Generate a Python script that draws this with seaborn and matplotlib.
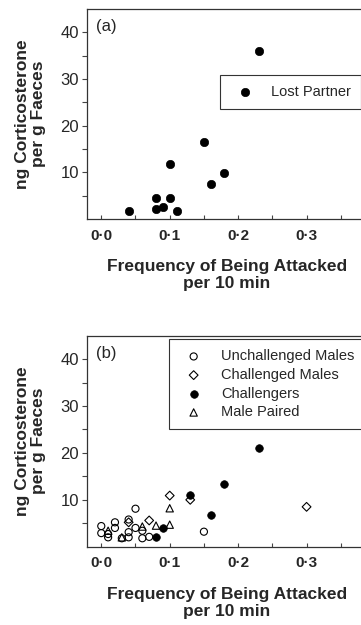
import matplotlib
matplotlib.use("Agg")
import matplotlib.pyplot as plt
import seaborn as sns

# ---- data ----
x_ticks = [0.0, 0.1, 0.2, 0.3]
x_tick_labels = ["0·0", "0·1", "0·2", "0·3"]
y_ticks = [10, 20, 30, 40]

lost_x = [0.04, 0.08, 0.08, 0.09, 0.10, 0.10, 0.11, 0.15, 0.16, 0.18, 0.23]
lost_y = [1.8, 4.5, 2.2, 2.6, 4.4, 11.7, 1.8, 16.4, 7.4, 9.8, 36.0]

unch_x = [0.00, 0.00, 0.01, 0.01, 0.02, 0.02, 0.03, 0.04, 0.04, 0.04, 0.05, 0.05, 0.06, 0.06, 0.07, 0.15]
unch_y = [4.4, 2.9, 2.0, 2.7, 5.2, 4.0, 1.8, 5.8, 3.1, 2.0, 8.1, 4.0, 3.4, 1.8, 2.1, 3.2]
chal_x = [0.04, 0.07, 0.10, 0.13, 0.30]
chal_y = [5.2, 5.6, 10.9, 10.0, 8.5]
chlr_x = [0.08, 0.09, 0.13, 0.16, 0.18, 0.23]
chlr_y = [2.1, 4.0, 11.0, 6.7, 13.3, 21.0]
pair_x = [0.01, 0.03, 0.06, 0.08, 0.10, 0.10]
pair_y = [3.4, 2.0, 4.3, 4.5, 8.2, 4.7]

sns.set_style("ticks")
plt.rcParams["font.family"] = ["Liberation Sans", "DejaVu Sans"]

fig = plt.figure(figsize=(3.61, 6.25), dpi=100)

W, H = 361.0, 625.0


def make_axes(top_px, bottom_px):
    left = 86.7
    right = 375.0
    return fig.add_axes([left / W, 1 - bottom_px / H, (right - left) / W, (bottom_px - top_px) / H])


def style_axes(ax, panel):
    ax.set_xlim(-0.0213, 0.4)
    ax.set_ylim(0, 45)
    ax.set_xticks(x_ticks, labels=x_tick_labels)
    ax.set_xticks([0.05, 0.15, 0.25, 0.35], minor=True)
    ax.set_yticks(y_ticks, labels=[str(v) for v in y_ticks])
    ax.set_yticks([5, 15, 25, 35], minor=True)
    ax.tick_params(axis="x", which="both", direction="in", length=3.2, width=0.8,
                   color="#444444", pad=7)
    ax.tick_params(axis="y", which="both", direction="out", length=3.5, width=0.8,
                   color="#444444", pad=2)
    for lab in ax.get_xticklabels():
        lab.set_fontweight("bold")
        lab.set_fontsize(11)
    for lab in ax.get_yticklabels():
        lab.set_fontsize(12)
    for side in ["left", "bottom", "top", "right"]:
        ax.spines[side].set_visible(True)
        ax.spines[side].set_color("#333333")
        ax.spines[side].set_linewidth(0.9)
    ax.set_xlabel("Frequency of Being Attacked\nper 10 min", fontsize=12.5,
                  fontweight="bold", linespacing=1.15)
    ax.xaxis.set_label_coords(0.4856, -0.19)
    ax.set_ylabel("ng Corticosterone\nper g Faeces", fontsize=12.5,
                  fontweight="bold", linespacing=1.15, va="center")
    ax.yaxis.set_label_coords(-0.195, 0.5)
    ax.text(0.031, 0.95, panel, transform=ax.transAxes, fontsize=12,
            ha="left", va="top")
    ax.grid(False)


# ---- panel (a) ----
ax1 = make_axes(9.0, 219.0)
sns.scatterplot(x=lost_x, y=lost_y, ax=ax1, marker="o", s=36, color="black",
                edgecolor="black", linewidth=0.5, label="Lost Partner", legend=False)
style_axes(ax1, "(a)")
ax1.legend(loc="upper left", bbox_to_anchor=(0.462, 0.686), fontsize=10.5,
           frameon=True, fancybox=False, edgecolor="#333333", framealpha=1,
           borderpad=0.7, handletextpad=0.8, borderaxespad=0, handlelength=2.0)
ax1.get_legend().get_frame().set_linewidth(0.8)

# ---- panel (b) ----
ax2 = make_axes(335.7, 546.7)
sns.scatterplot(x=unch_x, y=unch_y, ax=ax2, marker="o", s=26, color="none",
                edgecolor="black", linewidth=0.8, label="Unchallenged Males", legend=False)
sns.scatterplot(x=chal_x, y=chal_y, ax=ax2, marker="D", s=20, color="none",
                edgecolor="black", linewidth=0.8, label="Challenged Males", legend=False)
sns.scatterplot(x=chlr_x, y=chlr_y, ax=ax2, marker="o", s=30, color="black",
                edgecolor="black", linewidth=0.5, label="Challengers", legend=False)
sns.scatterplot(x=pair_x, y=pair_y, ax=ax2, marker="^", s=28, color="none",
                edgecolor="black", linewidth=0.8, label="Male Paired", legend=False)
style_axes(ax2, "(b)")
ax2.legend(loc="upper left", bbox_to_anchor=(0.285, 0.984), fontsize=10.5,
           frameon=True, fancybox=False, edgecolor="#333333", framealpha=1,
           borderpad=0.7, handletextpad=0.9, borderaxespad=0, handlelength=2.0,
           labelspacing=0.32)
ax2.get_legend().get_frame().set_linewidth(0.8)

fig.savefig("out.png", dpi=100)
